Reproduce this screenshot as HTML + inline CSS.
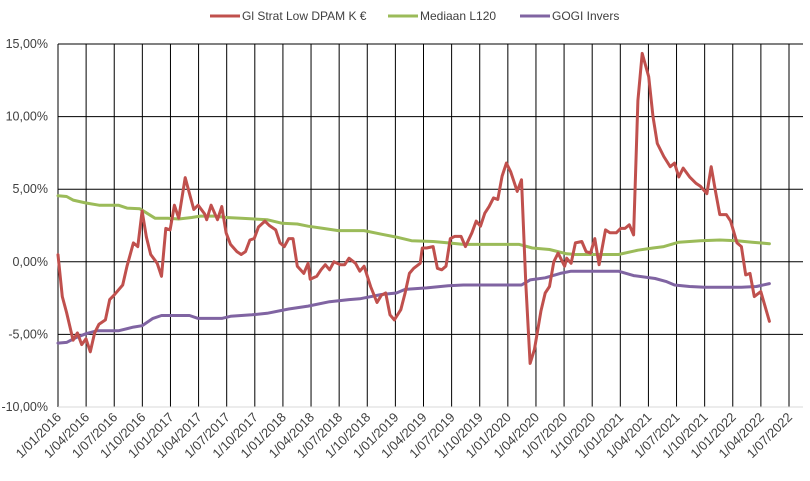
<!DOCTYPE html>
<html><head><meta charset="utf-8"><style>
body{margin:0;background:#fff;}
svg{display:block;font-family:"Liberation Sans",sans-serif;}
</style></head><body>
<svg id="c" width="810" height="481"></svg>
<script>
const redWeeks=[0,2,4,7,9,11,13,15,17,19,22,24,26,30,32,35,37,39,41,43,46,48,50,52,54,56,59,61,63,65,68,69,71,74,76,78,80,83,85,87,89,91,93,96,98,101,103,105,107,109,111,114,116,117,120,122,124,126,128,131,133,135,138,140,142,145,148,150,152,154,156,159,161,163,165,168,169,171,174,176,178,180,182,184,187,189,192,194,196,198,200,202,204,206,208,210,213,215,217,219,221,224,226,228,230,232,235,236,238,240,243,245,247,249,251,254,256,259,261,263,265,267,269,271,274,276,278,281,284,286,288,290,293,296,298,301,303,305,307,310,312,315,317,319,321,323,326,330];
const redValues=[0.48,-2.4,-3.5,-5.4,-4.9,-5.7,-5.3,-6.2,-4.9,-4.3,-4.0,-2.6,-2.3,-1.6,-0.3,1.3,1.05,3.5,1.7,0.5,-0.1,-1.0,2.3,2.2,3.9,3.0,5.8,4.7,3.6,3.9,3.3,2.9,3.9,2.9,3.8,2.0,1.2,0.7,0.5,0.7,1.5,1.6,2.4,2.8,2.5,2.2,1.3,1.05,1.6,1.6,-0.3,-0.8,-0.1,-1.2,-1.0,-0.55,-0.2,-0.55,0.0,-0.2,-0.2,0.25,-0.1,-0.65,-0.3,-1.7,-2.8,-2.3,-2.15,-3.65,-4.0,-3.3,-2.15,-0.8,-0.45,-0.1,0.95,0.95,1.05,-0.45,-0.55,-0.3,1.6,1.75,1.75,1.05,2.0,2.8,2.45,3.35,3.8,4.4,4.3,5.9,6.8,6.2,4.85,5.65,-1.5,-7.0,-6.05,-3.4,-2.15,-1.7,0.0,0.6,-0.3,0.25,-0.1,1.3,1.4,0.7,0.6,1.6,-0.2,2.2,2.0,2.0,2.3,2.3,2.55,1.85,11.1,14.35,12.75,10.0,8.15,7.25,6.55,6.8,5.85,6.45,5.85,5.4,5.2,4.7,6.55,4.85,3.25,3.25,2.8,1.3,1.05,-0.9,-0.8,-2.4,-2.05,-4.1];
const greenWeeks=[0,4,7,13,19,28,32,38,45,51,56,62,66,73,78,85,97,104,111,116,123,130,142,150,157,164,174,181,188,214,220,228,236,240,260,269,276,281,288,298,307,315,322,330];
const greenValues=[4.55,4.5,4.25,4.05,3.9,3.9,3.7,3.65,3.0,3.0,2.95,3.05,3.15,3.15,3.05,3.0,2.9,2.65,2.6,2.45,2.3,2.15,2.15,1.9,1.7,1.45,1.4,1.3,1.2,1.2,0.95,0.85,0.55,0.5,0.5,0.8,0.95,1.05,1.35,1.45,1.5,1.45,1.35,1.25];
const purpleWeeks=[0,4,8,13,18,28,35,39,44,48,61,65,71,76,80,90,97,107,116,126,135,140,150,157,161,171,181,188,215,219,226,233,238,245,260,267,277,282,286,293,300,317,324,330];
const purpleValues=[-5.6,-5.55,-5.25,-4.95,-4.75,-4.75,-4.5,-4.4,-3.9,-3.7,-3.7,-3.9,-3.9,-3.9,-3.75,-3.65,-3.55,-3.25,-3.05,-2.75,-2.6,-2.55,-2.25,-2.15,-1.9,-1.8,-1.65,-1.6,-1.6,-1.25,-1.1,-0.8,-0.65,-0.65,-0.65,-0.95,-1.15,-1.35,-1.6,-1.7,-1.75,-1.75,-1.7,-1.5];
const yTicks=[15,10,5,0,-5,-10];
const xTickLabels=["1/01/2016","1/04/2016","1/07/2016","1/10/2016","1/01/2017","1/04/2017","1/07/2017","1/10/2017","1/01/2018","1/04/2018","1/07/2018","1/10/2018","1/01/2019","1/04/2019","1/07/2019","1/10/2019","1/01/2020","1/04/2020","1/07/2020","1/10/2020","1/01/2021","1/04/2021","1/07/2021","1/10/2021","1/01/2022","1/04/2022","1/07/2022"];

const NS="http://www.w3.org/2000/svg";
const svg=document.getElementById('c');
const L=58,R=803,T=44,B=407,XE=789;
const weeksPerQ=339.1/26;
const xs=w=>L+w*(XE-L)/339.1;
const ys=v=>T+(15-v)*(B-T)/25;
function mk(tag,attrs,parent){const e=document.createElementNS(NS,tag);for(const k in attrs)e.setAttribute(k,attrs[k]);(parent||svg).appendChild(e);return e;}

xTickLabels.forEach((lab,i)=>{
  const x=xs(i*weeksPerQ);
  const g=mk('line',{x1:x,x2:x,y1:T,y2:B,stroke:'#000','stroke-width':1});
  
  
  const t=mk('text',{x:x+4,y:B+11,'font-size':13,fill:'#404040','text-anchor':'end',transform:`rotate(-45 ${x+4} ${B+11})`});
  t.textContent=lab;
  
  
});
yTicks.forEach(v=>{
  const y=ys(v);
  const g=mk('line',{x1:L,x2:R,y1:y,y2:y,stroke:v===-10?'#d9d9d9':'#000','stroke-width':1});
  
  
  const t=mk('text',{x:48,y:y+4,'font-size':12.5,fill:'#404040','text-anchor':'end'});
  t.textContent=v.toFixed(2).replace('.',',')+'%';
  
  
});
function series(ws,vs,color,name){
  const d=ws.map((w,i)=>(i?'L':'M')+xs(w).toFixed(1)+' '+ys(vs[i]).toFixed(1)).join(' ');
  const p=mk('path',{d:d,fill:'none',stroke:color,'stroke-width':3,'stroke-linejoin':'round','stroke-linecap':'round'});
  
  
}
series(greenWeeks,greenValues,'#9bbb59','mediaan-l120-line');
series(purpleWeeks,purpleValues,'#8064a2','gogi-invers-line');
series(redWeeks,redValues,'#c0504d','gl-strat-low-line');

const leg=[['Gl Strat Low DPAM K €','#c0504d',210],['Mediaan L120','#9bbb59',388],['GOGI Invers','#8064a2',520]];
leg.forEach(([lab,col,x])=>{
  const g=mk('g',{});
  
  
  mk('line',{x1:x,x2:x+30,y1:16,y2:16,stroke:col,'stroke-width':3},g);
  const t=mk('text',{x:x+32,y:20,'font-size':12,fill:'#404040'},g);
  t.textContent=lab;
});
</script>
</body></html>
